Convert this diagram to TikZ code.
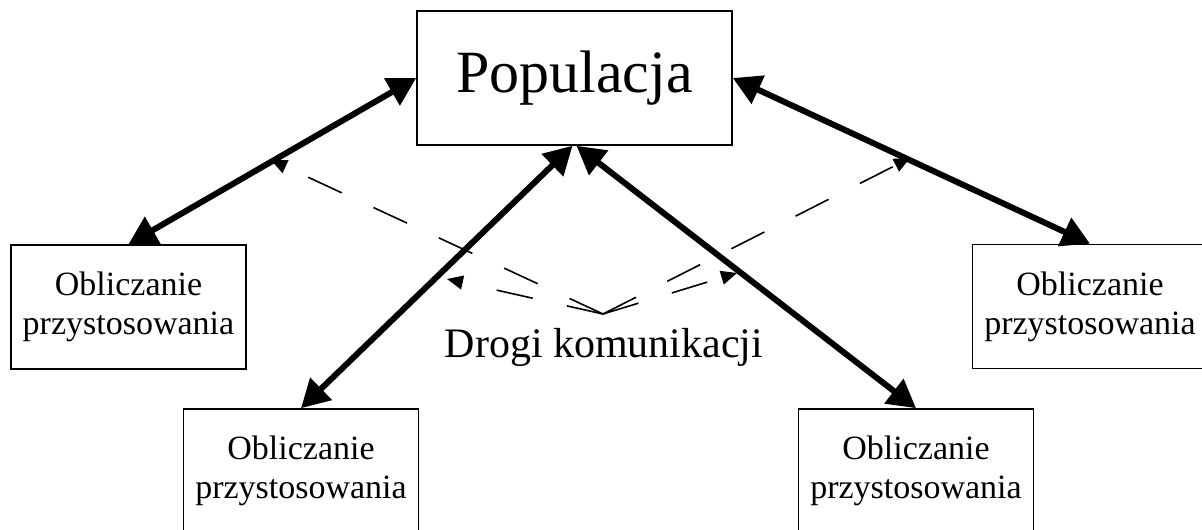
\documentclass[tikz,border=0pt]{standalone}
\usepackage{fontspec}
\setmainfont{Liberation Serif}
\usetikzlibrary{arrows.meta}
\begin{document}
\begin{tikzpicture}[x=0.5pt,y=-0.5pt,
  box/.style={draw,line width=0.8pt,inner sep=0pt,align=center},
  evalbox/.style={box,minimum width=117.5pt,minimum height=62pt,
    font=\fontsize{17}{19.5}\selectfont},
  link/.style={line width=3pt,
    {Triangle[length=14pt,width=15pt]}-{Triangle[length=14pt,width=15pt]}},
  route/.style={line width=0.8pt,dash pattern=on 18.5pt off 17.5pt,
    -{Triangle[length=8pt,width=7pt]}}]
\useasboundingbox (0,0) rectangle (1202,529);

% central population box
\node[box,minimum width=157.5pt,minimum height=67pt,
  font=\fontsize{30}{36}\selectfont] (pop) at (574.5,78) {Populacja};

% fitness evaluation boxes
\node[evalbox] (e1) at (128.5,307) {Obliczanie\\przystosowania};
\node[evalbox] (e2) at (301,471) {Obliczanie\\przystosowania};
\node[evalbox] (e3) at (916,471) {Obliczanie\\przystosowania};
\node[evalbox] (e4) at (1090,306.5) {Obliczanie\\przystosowania};

% two-way exchange between population and evaluators
\draw[link] (pop.west) -- (e1.north);
\draw[link] ([xshift=-1pt]pop.south) -- (e2.north);
\draw[link] ([xshift=1pt]pop.south) -- (e3.north);
\draw[link] (pop.east) -- (e4.north);

% communication routes
\coordinate (hub) at (603,314);
\coordinate (r1) at (271,160);
\coordinate (r2) at (447,279);
\coordinate (r3) at (737,273);
\coordinate (r4) at (910,158);
\draw[route] (hub) -- (r1);
\draw[route] (hub) -- (r2);
\draw[route] (hub) -- (r3);
\draw[route] (hub) -- (r4);

\node[font=\fontsize{21}{25}\selectfont,anchor=base] (roads) at (604,357)
  {Drogi komunikacji};
\end{tikzpicture}
\end{document}
